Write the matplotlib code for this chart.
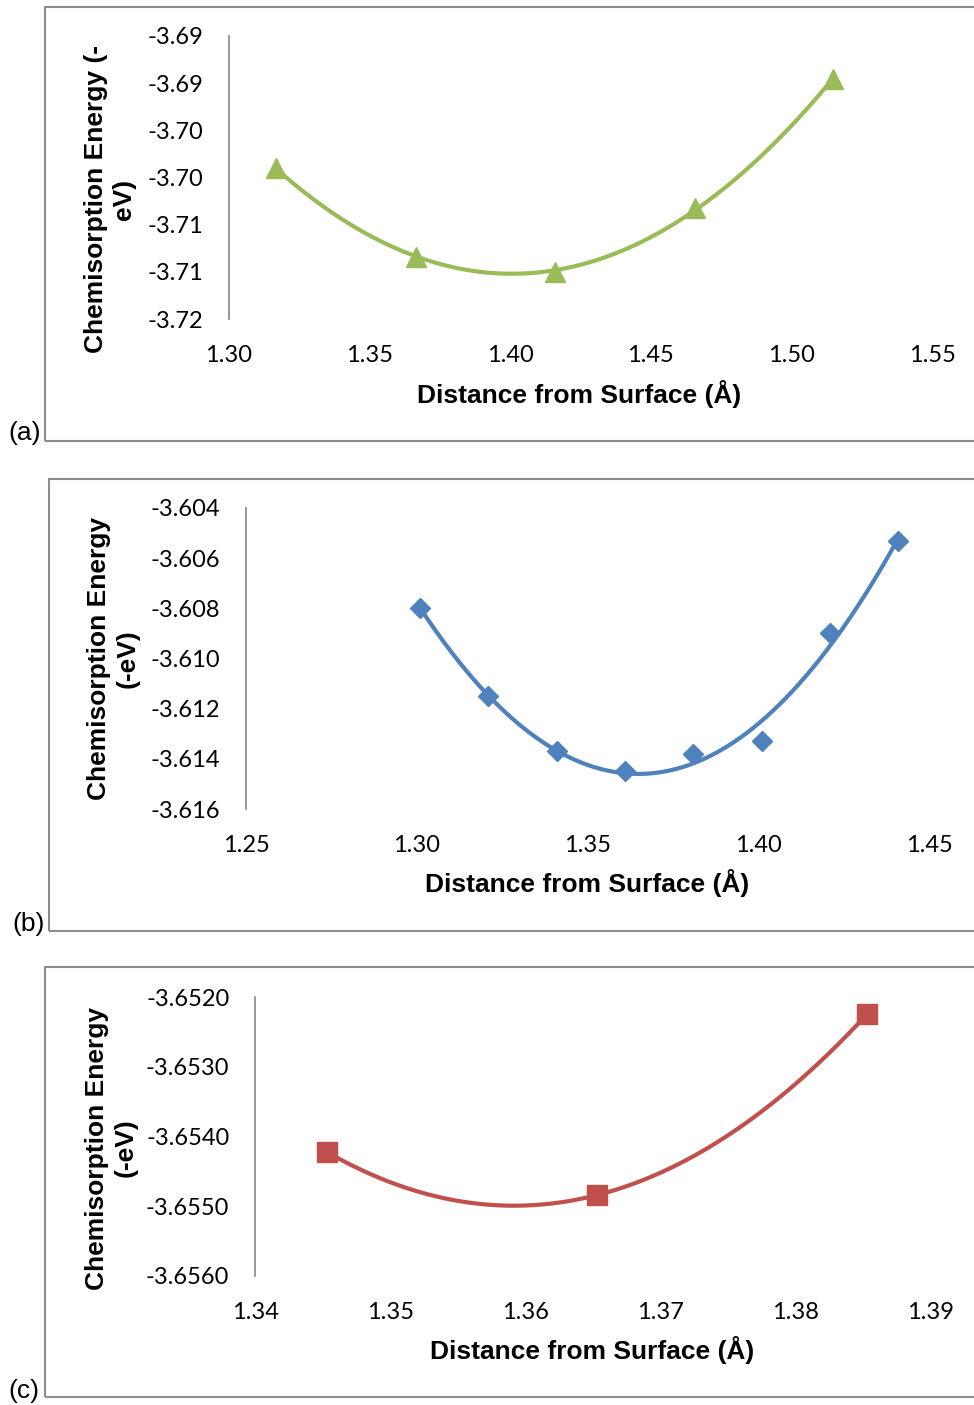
import numpy as np
import matplotlib
matplotlib.use("Agg")
import matplotlib.pyplot as plt
from matplotlib.patches import Rectangle
from matplotlib.ticker import FixedLocator, FuncFormatter
from decimal import Decimal, ROUND_HALF_UP

# (a) green triangles
dist_a = [1.3167, 1.3665, 1.4159, 1.4657, 1.5148]
energy_a = [-3.6990, -3.7084, -3.7100, -3.7032, -3.6896]
xticks_a = [1.30, 1.35, 1.40, 1.45, 1.50, 1.55]
yticks_a = [-3.715, -3.710, -3.705, -3.700, -3.695, -3.690, -3.685]

# (b) blue diamonds
dist_b = [1.301, 1.321, 1.341, 1.361, 1.381, 1.401, 1.421, 1.441]
energy_b = [-3.6080, -3.6115, -3.6137, -3.6145, -3.6138, -3.6133, -3.6090, -3.6053]
xticks_b = [1.25, 1.30, 1.35, 1.40, 1.45]
yticks_b = [-3.616, -3.614, -3.612, -3.610, -3.608, -3.606, -3.604]

# (c) red squares
dist_c = [1.3453, 1.3653, 1.3853]
energy_c = [-3.65422, -3.65484, -3.65224]
xticks_c = [1.34, 1.35, 1.36, 1.37, 1.38, 1.39]
yticks_c = [-3.6560, -3.6550, -3.6540, -3.6530, -3.6520]

W, H = 974, 1405
fig = plt.figure(figsize=(W / 100, H / 100), dpi=100)
fig.patch.set_facecolor("white")

BOLD = dict(family="Liberation Sans", weight="bold", size=19, color="black")
TICKFONT = "Lato"
FRAME = "#8c8c8c"


def excel_fmt(nd):
    q = Decimal(1).scaleb(-nd)

    def f(v, pos=None):
        d = Decimal(f"{v:.6f}").quantize(q, rounding=ROUND_HALF_UP)
        return str(d)
    return f


def panel(box, frame, x, y, color, marker, ms, xt, yt, xd, yd, ylabel, ylab_xy, xlab_xy, tag, tag_xy):
    x0, y0, x1, y1 = box
    # chart frame (right edge runs off the page)
    fx0, fy0, fy1 = frame
    fig.add_artist(Rectangle((fx0 / W, 1 - fy1 / H), 2.0, (fy1 - fy0) / H,
                             transform=fig.transFigure, fill=False,
                             edgecolor=FRAME, lw=1.5))
    ax = fig.add_axes([x0 / W, 1 - y1 / H, (x1 - x0) / W, (y1 - y0) / H])
    ax.set_facecolor("none")
    # quadratic trend line over the data range
    coef = np.polyfit(x, y, 2)
    xs = np.linspace(min(x), max(x), 300)
    ax.plot(xs, np.polyval(coef, xs), color=color, lw=3.0, solid_capstyle="butt", zorder=2)
    ax.plot(x, y, linestyle="none", marker=marker, ms=ms, color=color, mec=color, zorder=3)
    ax.set_xlim(xt[0], xt[-1])
    ax.set_ylim(yt[0], yt[-1])
    ax.xaxis.set_major_locator(FixedLocator(xt))
    ax.yaxis.set_major_locator(FixedLocator(yt))
    ax.xaxis.set_major_formatter(FuncFormatter(excel_fmt(xd)))
    ax.yaxis.set_major_formatter(FuncFormatter(excel_fmt(yd)))
    for s in ["top", "right", "bottom"]:
        ax.spines[s].set_visible(False)
    ax.spines["left"].set_color("#868686")
    ax.spines["left"].set_linewidth(1.2)
    ax.tick_params(axis="both", length=0, labelsize=17, labelcolor="black")
    ax.tick_params(axis="x", pad=19)
    ax.tick_params(axis="y", pad=18.5)
    for lab in ax.get_xticklabels() + ax.get_yticklabels():
        lab.set_family(TICKFONT)
    fig.text(ylab_xy[0] / W, 1 - ylab_xy[1] / H, ylabel, rotation=90,
             ha="center", va="center", multialignment="center", linespacing=1.25, **BOLD)
    fig.text(xlab_xy[0] / W, 1 - xlab_xy[1] / H, "Distance from Surface (Å)",
             ha="center", va="center", **BOLD)
    fig.text(tag_xy[0] / W, 1 - tag_xy[1] / H, tag, ha="left", va="center",
             family="Liberation Sans", size=19, color="black")
    return ax


panel((229, 36, 932, 319), (45, 7, 441), dist_a, energy_a, "#9BBB59", "^", 14,
      xticks_a, yticks_a, 2, 2, "Chemisorption Energy (-\neV)", (110, 199), (579, 394),
      "(a)", (8, 433))
panel((246, 508, 929, 809), (49, 479, 931), dist_b, energy_b, "#4F81BD", "D", 10.5,
      xticks_b, yticks_b, 2, 3, "Chemisorption Energy\n(-eV)", (113, 659), (587, 883),
      "(b)", (12, 924))
panel((255, 997, 931, 1276), (45, 967, 1397), dist_c, energy_c, "#C0504D", "s", 14.5,
      xticks_c, yticks_c, 2, 4, "Chemisorption Energy\n(-eV)", (111, 1148), (592, 1350),
      "(c)", (8, 1391))

fig.savefig("out.png", dpi=100, facecolor="white")
